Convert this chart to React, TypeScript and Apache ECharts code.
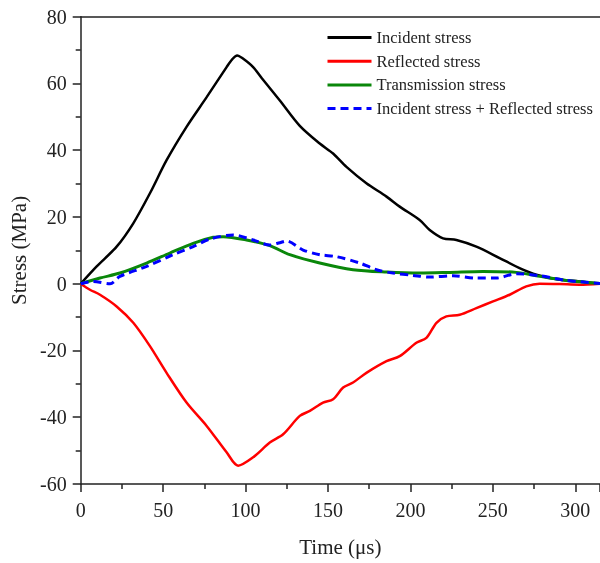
import React, { useEffect, useRef } from "react";
import * as echarts from "echarts";

const incidentT = [0, 9.7, 21.8, 31.9, 42, 52.1, 64.2, 76.4, 88.5, 92, 94.9, 98, 104.6, 110, 120.8, 132.9, 145, 153.1, 161.2, 173.3, 185.5, 193.5, 205.6, 211.7, 219.8, 227.9, 240, 254.1, 266.2, 276.4, 290.5, 302.6, 315];
const incidentV = [0, 5.2, 11.1, 18.1, 27.1, 37, 47, 55.9, 64.9, 67.3, 68.4, 67.6, 64.9, 61.5, 54.9, 47.3, 42, 39, 35, 30.1, 26.1, 23.1, 19.1, 16.1, 13.6, 13.1, 11.1, 7.7, 4.7, 2.7, 1.2, 0.7, 0];

const reflectedT = [0, 5.6, 11.7, 21.8, 31.9, 42, 52.1, 64.2, 76.4, 88.5, 95.5, 104.6, 114.7, 122.8, 132.9, 139, 147, 153.1, 159.2, 165.2, 173.3, 185.5, 193.5, 203.6, 209.7, 215.8, 221.8, 229.9, 240, 250.1, 260.2, 270.3, 278.4, 290.5, 302.6, 315];
const reflectedV = [0, -1.8, -3.3, -6.8, -11.7, -18.7, -26.7, -35.6, -42.6, -50.5, -54.5, -52, -47.6, -45.1, -39.6, -38.1, -35.6, -34.6, -31.1, -29.6, -26.7, -23.2, -21.7, -17.7, -16.2, -11.7, -9.8, -9.3, -7.3, -5.3, -3.3, -0.8, 0, -0.1, -0.3, 0];

const transmissionT = [0, 11.7, 23.8, 40, 54.1, 68.2, 80.4, 86.4, 100.6, 114.7, 126.8, 145, 165.2, 185.5, 205.6, 223.8, 244, 264.2, 278.4, 294.5, 315];
const transmissionV = [0, 1.7, 3.2, 6.2, 9.2, 12.1, 13.9, 14.1, 13.1, 11.4, 8.7, 6.2, 4.2, 3.5, 3.2, 3.4, 3.7, 3.4, 2.2, 1.0, 0.1];

const sumT = [0, 7.6, 17.8, 23.8, 40, 56.1, 68.2, 78.4, 92.5, 104.6, 114.7, 120.8, 124.8, 134.9, 145, 155.2, 169.3, 179.4, 189.5, 201.6, 211.7, 225.8, 240, 252.1, 264.2, 278.4, 294.5, 315];
const sumV = [0, 0.7, 0, 2.2, 5.2, 8.7, 11.1, 13.4, 14.6, 13.1, 11.6, 12.3, 12.8, 10.1, 8.7, 8.1, 6.2, 4.2, 3.2, 2.5, 2.0, 2.4, 1.7, 1.7, 3.0, 2.4, 1.0, 0.1];

const seriesNames = [
  "Incident stress",
  "Reflected stress",
  "Transmission stress",
  "Incident stress + Reflected stress",
];

const pair = (t: number[], v: number[]) => t.map((x, i) => [x, v[i]]);

const FONT = "Liberation Serif, Times New Roman, serif";

export default function App() {
  const ref = useRef<HTMLDivElement>(null);
  useEffect(() => {
    document.body.style.margin = "0";
    const chart = echarts.init(ref.current!, null, { renderer: "svg" });
    const axisCommon = {
      axisLine: { show: true, onZero: false, lineStyle: { color: "#222", width: 1.5 } },
      axisTick: { show: true, inside: false, length: 8, lineStyle: { color: "#222", width: 1.5 } },
      minorTick: { show: true, splitNumber: 2, length: 5, lineStyle: { color: "#222", width: 1.5 } },
      splitLine: { show: false },
      minorSplitLine: { show: false },
      axisLabel: { fontSize: 20, fontFamily: FONT, color: "#222" },
      nameTextStyle: { fontSize: 21, fontFamily: FONT, color: "#222" },
    };
    const lineSeries = (name: string, data: number[][], color: string, width: number, type: any = "solid") => ({
      name,
      type: "line",
      data,
      symbol: "none",
      showSymbol: false,
      smooth: 0.3,
      lineStyle: { color, width, type },
      itemStyle: { color },
    });
    chart.setOption({
      animation: false,
      grid: { left: 80.7, top: 16.7, right: 0, bottom: 79, containLabel: false },
      legend: {
        data: seriesNames,
        orient: "vertical",
        left: 321,
        top: 24,
        padding: 5,
        itemWidth: 44,
        itemHeight: 14,
        itemGap: 6.7,
        itemStyle: { opacity: 0 },
        lineStyle: { width: 3 },
        textStyle: { fontSize: 16.5, fontFamily: FONT, color: "#222" },
      },
      xAxis: [
        {
          ...axisCommon,
          type: "value",
          min: 0,
          max: 315,
          interval: 50,
          name: "Time (μs)",
          nameLocation: "middle",
          nameGap: 52,
          axisLabel: { ...axisCommon.axisLabel, margin: 16, showMaxLabel: false },
        },
        {
          type: "value",
          position: "top",
          min: 0,
          max: 315,
          axisLine: { show: true, onZero: false, lineStyle: { color: "#222", width: 1.5 } },
          axisTick: { show: false },
          axisLabel: { show: false },
          splitLine: { show: false },
        },
      ],
      yAxis: {
        ...axisCommon,
        type: "value",
        min: -60,
        max: 80,
        interval: 20,
        name: "Stress (MPa)",
        nameLocation: "middle",
        nameGap: 44,
        axisLabel: { ...axisCommon.axisLabel, margin: 14 },
      },
      series: [
        lineSeries(seriesNames[0], pair(incidentT, incidentV), "#000000", 2.5),
        lineSeries(seriesNames[1], pair(reflectedT, reflectedV), "#ff0000", 2.5),
        lineSeries(seriesNames[2], pair(transmissionT, transmissionV), "#0a870a", 3),
        lineSeries(seriesNames[3], pair(sumT, sumV), "#0000ff", 3, [8, 5]),
      ],
    });
    return () => chart.dispose();
  }, []);
  return <div ref={ref} style={{ position: "fixed", left: 0, top: 0, width: 600, height: 563 }} />;
}
